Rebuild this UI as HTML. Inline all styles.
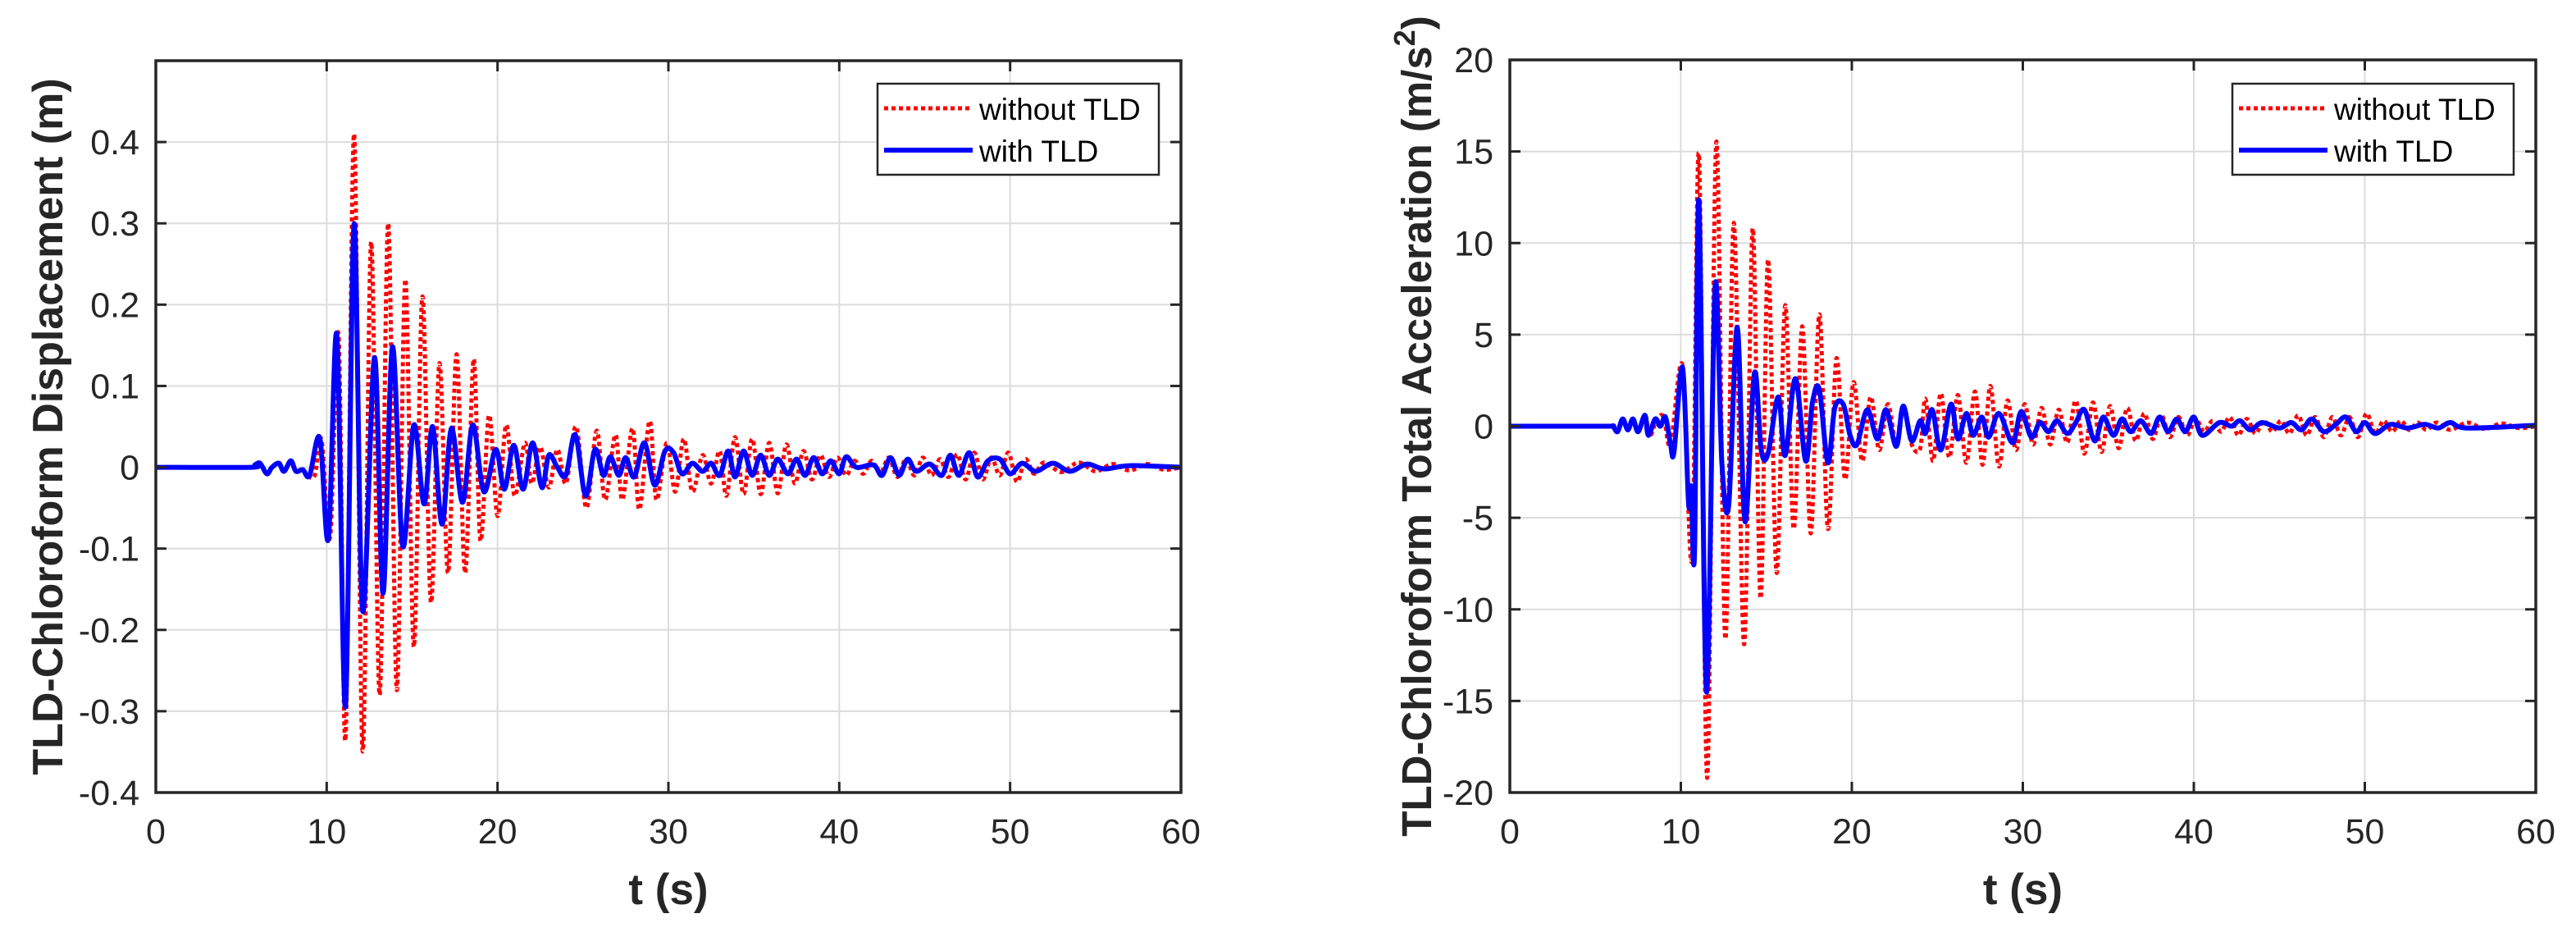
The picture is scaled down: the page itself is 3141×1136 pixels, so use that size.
<!DOCTYPE html>
<html><head><meta charset="utf-8"><style>
html,body{margin:0;padding:0;background:#fff;}
svg{display:block;font-family:"Liberation Sans",Arial,sans-serif;}
</style></head><body>
<svg id="fig" width="3141" height="1136" viewBox="0 0 3141 1136" xmlns="http://www.w3.org/2000/svg"></svg>
<script>
// ---- Data (extrema) ----
const xTicks = [0,10,20,30,40,50,60];
const dispTicks = [-0.4,-0.3,-0.2,-0.1,0,0.1,0.2,0.3,0.4];
const dispTickLabels = ["-0.4","-0.3","-0.2","-0.1","0","0.1","0.2","0.3","0.4"];
const accTicks = [-20,-15,-10,-5,0,5,10,15,20];
const accTickLabels = ["-20","-15","-10","-5","0","5","10","15","20"];
const seriesNames = ["without TLD","with TLD"];

const dispRedT = [0,5.5,5.8,6.1,6.5,6.8,7.2,7.5,7.9,8.2,8.6,8.9,9.3,9.7,10.2,10.7,11.1,11.6,12.1,12.6,13.1,13.6,14.1,14.6,15.1,15.6,16.1,16.6,17.1,17.6,18.1,18.6,19.0,19.5,20.0,20.5,21.0,21.6,22.0,22.5,23.0,23.5,24.0,24.6,25.2,25.8,26.3,26.9,27.3,27.9,28.3,28.9,29.3,29.9,30.4,30.9,31.4,32.0,32.5,33.0,33.4,33.9,34.4,34.9,35.4,35.9,36.4,36.9,37.4,37.9,38.4,38.9,39.4,39.9,40.4,40.9,41.4,41.9,42.4,42.9,43.4,43.9,44.4,44.9,45.4,45.9,46.4,46.9,47.4,47.9,48.4,48.9,49.4,49.9,50.4,50.9,51.4,52,53,54,55,56,57,58,59,60];
const dispRedV = [0,0,0.003,0.005,-0.008,0,0.005,-0.005,0.008,-0.005,-0.003,-0.01,-0.01,0.034,-0.086,0.162,-0.334,0.41,-0.349,0.277,-0.28,0.30,-0.274,0.231,-0.221,0.21,-0.166,0.128,-0.13,0.139,-0.13,0.133,-0.09,0.064,-0.06,0.052,-0.035,0.03,-0.02,0.025,-0.025,0.022,-0.02,0.05,-0.05,0.045,-0.04,0.04,-0.04,0.048,-0.052,0.057,-0.04,0.03,-0.03,0.035,-0.03,0.015,-0.02,0.02,-0.035,0.037,-0.033,0.035,-0.033,0.03,-0.032,0.028,-0.02,0.02,-0.015,0.015,-0.012,0.012,-0.01,0.008,-0.008,0.008,-0.008,0.012,-0.012,0.01,-0.01,0.012,-0.01,0.01,-0.012,0.016,-0.015,0.018,-0.015,0.012,-0.01,0.018,-0.018,0.01,-0.008,0.006,-0.006,0.006,-0.005,0.004,-0.004,0.004,-0.003,0];

const dispBlueT = [0,5.5,5.8,6.1,6.5,6.8,7.2,7.5,7.9,8.2,8.6,9.0,9.6,10.1,10.6,11.1,11.6,12.1,12.8,13.3,13.85,14.45,15.1,15.7,16.2,16.75,17.3,17.95,18.55,19.2,19.9,20.4,20.95,21.5,22.05,22.6,23.0,23.5,24.0,24.55,25.15,25.7,26.2,26.6,27.1,27.5,28.0,28.6,29.2,29.8,30.3,30.8,31.4,32,32.5,33.0,33.5,33.9,34.4,34.9,35.4,35.9,36.4,37,37.5,38,38.5,39,39.5,40,40.4,41,42,42.5,43,43.5,44,44.5,45.3,46,46.5,47,47.6,48.1,48.7,49.4,50,50.7,51.5,52.5,53.5,54.5,55.5,57,60];
const dispBlueV = [0,0,0.003,0.005,-0.008,0,0.005,-0.005,0.008,-0.005,-0.003,-0.01,0.036,-0.088,0.162,-0.294,0.299,-0.176,0.135,-0.155,0.148,-0.097,0.052,-0.045,0.05,-0.07,0.048,-0.043,0.052,-0.03,0.022,-0.027,0.027,-0.027,0.03,-0.025,0.015,0,-0.01,0.04,-0.035,0.022,-0.01,0.013,-0.01,0.012,-0.012,0.03,-0.022,0.02,0.018,-0.008,0.005,-0.005,0.005,-0.01,0.02,-0.012,0.02,-0.01,0.015,-0.01,0.01,-0.008,0.01,-0.01,0.012,-0.008,0.008,-0.008,0.013,0,0.003,-0.01,0.012,-0.01,0.01,-0.005,0.004,-0.01,0.015,-0.01,0.018,-0.012,0.008,0.01,-0.008,0.005,-0.005,0.005,-0.005,0.004,-0.002,0.002,0];

const accRedT = [0,5.5,6.0,6.3,6.6,6.9,7.2,7.5,7.9,8.2,8.6,9.0,9.4,10.1,10.65,11.06,11.54,12.07,12.6,13.1,13.7,14.2,14.66,15.1,15.6,16.1,16.6,17.1,17.6,18.1,18.6,19.1,19.6,20.1,20.6,21.1,21.6,22.1,22.6,23.0,23.5,24.0,24.3,24.75,25.2,25.7,26.2,26.7,27.2,27.65,28.1,28.6,29.1,29.6,30.1,30.6,31.1,31.6,32.1,32.6,33.1,33.6,34.1,34.6,35.1,35.6,36.1,36.6,37.1,37.6,38.1,38.6,39.1,39.6,40.1,40.6,41.1,41.6,42.1,42.6,43.1,43.6,44.1,44.6,45.1,45.6,46.1,46.6,47.1,47.6,48.1,48.6,49.1,49.6,50.1,50.6,51.1,51.6,52.1,52.6,53.1,53.6,54.2,55,56,57,58,59,60];
const accRedV = [0,0,0,-0.3,0.4,-0.2,0.4,-0.3,0.6,-0.5,0.4,0.5,-1.0,3.3,-7.2,14.8,-19.2,15.5,-11.6,11.1,-11.9,10.8,-9.4,9.1,-8.0,6.6,-5.6,5.45,-5.85,6.1,-5.6,3.7,-2.9,2.4,-1.9,1.6,-1.3,1.2,-1.0,1.0,-1.0,-1.2,1.5,-1.9,1.8,-1.7,1.7,-2.0,1.9,-2.1,2.2,-2.2,1.4,-1.3,1.2,-1.0,1.0,-1.0,0.9,-0.9,1.4,-1.5,1.3,-1.4,1.1,-1.2,1.0,-0.8,0.7,-0.7,0.6,-0.6,0.5,-0.5,0.4,-0.3,0.3,-0.3,0.5,-0.5,0.4,-0.4,0.3,-0.3,0.3,-0.4,0.6,-0.5,0.5,-0.6,0.5,-0.5,0.5,-0.6,0.7,-0.4,0.3,-0.3,0.3,-0.2,0.2,-0.2,0.2,-0.2,0.2,-0.15,0.15,-0.1,0];

const accBlueT = [0,5.5,6.0,6.3,6.6,6.9,7.2,7.5,7.9,8.1,8.5,8.8,9.1,9.4,9.6,10.1,10.45,10.6,10.8,11.06,11.5,12.0,12.4,12.8,13.3,13.75,14.3,14.7,15.1,15.7,16.1,16.7,17.3,17.7,18.1,18.6,19.0,19.5,19.9,20.3,20.9,21.5,22.0,22.6,23.0,23.5,24.0,24.3,24.7,25.2,25.8,26.2,26.7,27.1,27.6,28.0,28.6,29.4,29.9,30.5,31,31.5,32,32.6,33.1,33.6,34.2,34.7,35.3,35.8,36.3,36.9,37.5,38,38.5,39,39.5,40,40.5,41.5,42.2,42.7,43.3,44,45,45.7,46.3,46.9,47.6,48.3,48.9,49.5,50,50.6,51.5,52.5,53.5,54.3,55,56,60];
const accBlueV = [0,0,0,-0.3,0.4,-0.2,0.4,-0.3,0.6,-0.5,0.4,0,0.5,-1.0,-1.4,3.2,-4.2,-3.3,-6.9,12.3,-14.5,7.6,-2.0,-4.3,5.4,-5.2,2.9,-1.3,-1.5,1.6,-1.6,2.6,-1.9,1.3,2.0,-2.0,1.0,1.2,-0.5,-1.0,0.9,-0.7,0.9,-1.1,1.1,-0.8,0.3,-0.4,0.9,-1.3,1.2,-0.7,0.7,-0.5,0.5,-0.6,0.7,-0.9,0.8,-0.6,0.2,-0.3,0.3,-0.4,0.2,0.9,-0.8,0.5,-0.5,0.4,-0.3,0.3,-0.4,0.5,-0.3,0.4,-0.3,0.5,-0.5,0.2,0,0.3,-0.2,0.2,-0.1,0.2,-0.2,0.4,-0.3,0.1,0.5,-0.3,0.2,-0.4,0.1,-0.1,0.1,-0.1,0.2,-0.1,0.05,0];

// ---- Drawing ----
const NS = "http://www.w3.org/2000/svg";
const svg = document.getElementById("fig");
function mk(tag, attrs, parent){
  const e = document.createElementNS(NS, tag);
  for (const k in attrs) e.setAttribute(k, attrs[k]);
  (parent||svg).appendChild(e);
  return e;
}
function smoothPath(ts, vs, sx, sy){
  const P = ts.map((t,i)=>[sx(t), sy(vs[i])]);
  let d = "M" + P[0][0].toFixed(1) + "," + P[0][1].toFixed(1);
  for (let i=0;i<P.length-1;i++){
    const p0=P[Math.max(0,i-1)], p1=P[i], p2=P[i+1], p3=P[Math.min(P.length-1,i+2)];
    const c1x=p1[0]+(p2[0]-p0[0])/6, c1y=p1[1]+(p2[1]-p0[1])/6;
    const c2x=p2[0]-(p3[0]-p1[0])/6, c2y=p2[1]-(p3[1]-p1[1])/6;
    d += "C"+c1x.toFixed(1)+","+c1y.toFixed(1)+" "+c2x.toFixed(1)+","+c2y.toFixed(1)+" "+p2[0].toFixed(1)+","+p2[1].toFixed(1);
  }
  return d;
}
function chart(o){
  const g = mk("g", {});
  
  
  const L=o.L,R=o.R,T=o.T,B=o.B;
  const sx = t => L + (t - 0)/(60-0)*(R-L);
  const sy = v => B - (v - o.ymin)/(o.ymax-o.ymin)*(B-T);
  xTicks.forEach(t=>{
    if (t>0 && t<60){
      const gl = mk("line",{x1:sx(t),x2:sx(t),y1:T,y2:B,stroke:"#dcdcdc","stroke-width":2},g);
      
      
    }
  });
  o.yt.forEach(v=>{
    if (v>o.ymin && v<o.ymax){
      const gl = mk("line",{x1:L,x2:R,y1:sy(v),y2:sy(v),stroke:"#dcdcdc","stroke-width":2},g);
      
      
    }
  });
  const cid = o.name+"-clip";
  const cp = mk("clipPath",{id:cid},g);
  mk("rect",{x:L,y:T,width:R-L,height:B-T},cp);
  const red = mk("path",{d:smoothPath(o.rt,o.rv,sx,sy),fill:"none",stroke:"#ff0000","stroke-width":5,"stroke-dasharray":"5 4","clip-path":"url(#"+cid+")"},g);
  
  
  const blue = mk("path",{d:smoothPath(o.bt,o.bv,sx,sy),fill:"none",stroke:"#0000ff","stroke-width":6,"stroke-linejoin":"round","clip-path":"url(#"+cid+")"},g);
  
  
  xTicks.forEach(t=>{
    const tk = mk("line",{x1:sx(t),x2:sx(t),y1:B,y2:B-13,stroke:"#262626","stroke-width":3},g);
    
    
    mk("line",{x1:sx(t),x2:sx(t),y1:T,y2:T+13,stroke:"#262626","stroke-width":3},g);
    const tl = mk("text",{x:sx(t),y:1028,"text-anchor":"middle","font-size":43,fill:"#262626"},g);
    tl.textContent = String(t);
    
    
  });
  o.yt.forEach((v,i)=>{
    const tk = mk("line",{x1:L,x2:L+13,y1:sy(v),y2:sy(v),stroke:"#262626","stroke-width":3},g);
    
    
    mk("line",{x1:R,x2:R-13,y1:sy(v),y2:sy(v),stroke:"#262626","stroke-width":3},g);
    const tl = mk("text",{x:L-20,y:sy(v)+15,"text-anchor":"end","font-size":43,fill:"#262626"},g);
    tl.textContent = o.ytl[i];
    
    
  });
  const box = mk("rect",{x:L,y:T,width:R-L,height:B-T,fill:"none",stroke:"#262626","stroke-width":3.5},g);
  
  
  const xl = mk("text",{x:(L+R)/2,y:1102,"text-anchor":"middle","font-size":53,"font-weight":"bold",fill:"#262626"},g);
  xl.textContent = "t (s)";
  
  
  const yl = mk("text",{x:0,y:0,"text-anchor":"middle","font-size":o.ylfs,"font-weight":"bold",fill:"#262626",transform:"translate("+o.ylx+","+((T+B)/2)+") rotate(-90)"},g);
  yl.innerHTML = o.ylab;
  
  
  const lg = mk("g",{},g);
  
  
  const lx = R-27-343;
  mk("rect",{x:lx,y:102,width:343,height:111,fill:"#fff",stroke:"#262626","stroke-width":2.5},lg);
  const l1 = mk("line",{x1:lx+8,x2:lx+116,y1:132,y2:132,stroke:"#ff0000","stroke-width":5,"stroke-dasharray":"5 4"},lg);
  
  
  const t1 = mk("text",{x:lx+124,y:146,"font-size":37,fill:"#000"},lg);
  t1.textContent = seriesNames[0];
  
  
  const l2 = mk("line",{x1:lx+8,x2:lx+116,y1:183,y2:183,stroke:"#0000ff","stroke-width":6},lg);
  
  
  const t2 = mk("text",{x:lx+124,y:197,"font-size":37,fill:"#000"},lg);
  t2.textContent = seriesNames[1];
  
  
}
chart({name:"displacement-chart",L:190,R:1440,T:74,B:966,ymin:-0.4,ymax:0.5,yt:dispTicks,ytl:dispTickLabels,
  rt:dispRedT,rv:dispRedV,bt:dispBlueT,bv:dispBlueV,ylx:76,ylfs:52,ylab:"TLD-Chloroform Displacement (m)"});
chart({name:"acceleration-chart",L:1841,R:3092,T:73,B:966,ymin:-20,ymax:20,yt:accTicks,ytl:accTickLabels,
  rt:accRedT,rv:accRedV,bt:accBlueT,bv:accBlueV,ylx:1745,ylfs:51,ylab:"TLD-Chloroform Total Acceleration (m/s<tspan dy='-20' font-size='36'>2</tspan><tspan dy='20'>)</tspan>"});
</script>
</body></html>
